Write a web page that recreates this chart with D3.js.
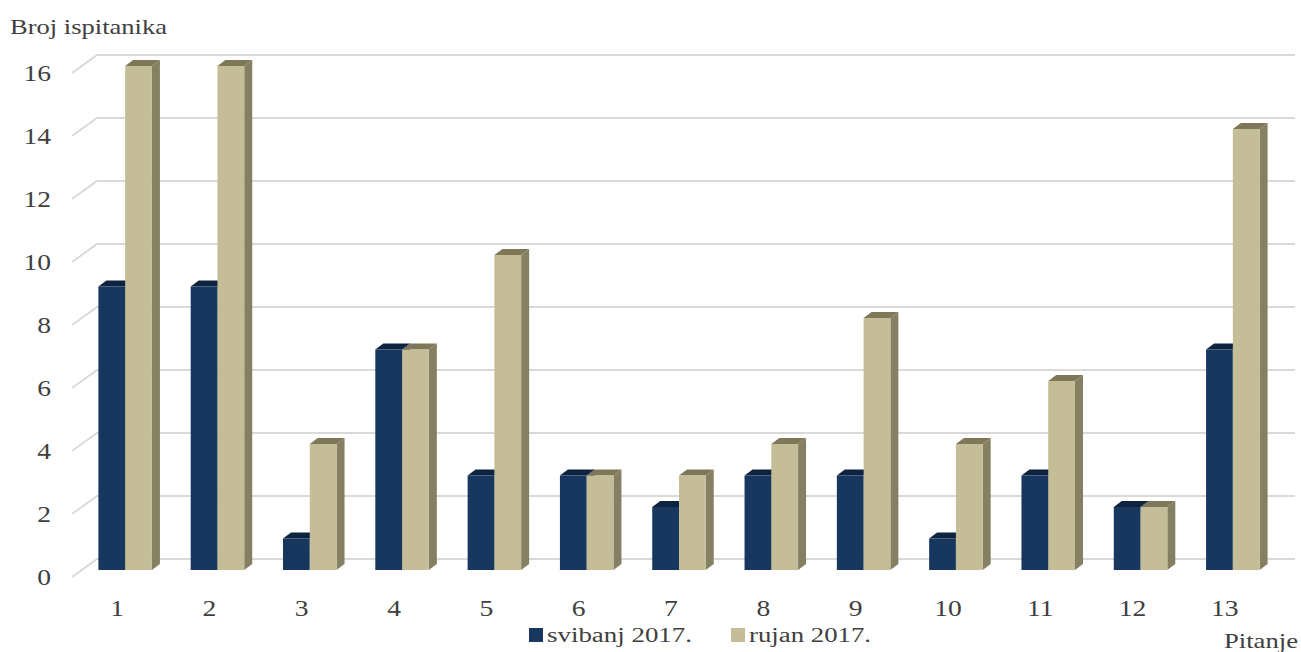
<!DOCTYPE html>
<html>
<head>
<meta charset="utf-8">
<script src="https://cdn.jsdelivr.net/npm/d3@7"></script>
<style>
  html, body { margin: 0; padding: 0; background: #ffffff; }
  svg { display: block; }
  text { font-family: "Liberation Serif", "Times New Roman", serif; fill: #404040; }
</style>
</head>
<body>
<svg id="chart" width="1301" height="652"></svg>
<script>
// Question numbers and respondents per survey round
const categories = ["1", "2", "3", "4", "5", "6", "7", "8", "9", "10", "11", "12", "13"];
const seriesNames = ["svibanj 2017.", "rujan 2017."];
const svibanj = [9, 9, 1, 7, 3, 3, 2, 3, 3, 1, 3, 2, 7];
const rujan = [16, 16, 4, 7, 10, 3, 3, 4, 8, 4, 6, 2, 14];
const yTicks = [0, 2, 4, 6, 8, 10, 12, 14, 16];
const yTitle = "Broj ispitanika";
const xTitle = "Pitanje";

const faceColors = [
  { front: "#17375e", top: "#0d2340", side: "#0f2a4a" },
  { front: "#c4bd97", top: "#7e7859", side: "#858062" }
];

const svg = d3.select("#chart");

// Pseudo-3D layout: floor front edge -> back wall offset
const wallDX = 25, wallDY = -18;   // front edge to back wall
const barDX = 8, barDY = -6;       // bar depth
const frontLift = 7;               // bar front face sits above floor front edge

// y scale measured along the floor front edge
const y = d3.scaleLinear().domain([0, 16]).range([577, 73]);
const yBar = v => y(v) - frontLift;

// x scale for the bar groups (front faces)
const x = d3.scaleBand().domain(categories).range([79, 1279])
  .paddingInner(0.42).paddingOuter(0.21);
const xs = d3.scaleBand().domain(seriesNames).range([0, x.bandwidth()]);

const wallLeft = 72, wallRight = 1295;

// helper for horizontally widened serif text
function label(g, str, tx, ty, size, anchor, sx) {
  return g.append("text")
    .attr("transform", `translate(${tx},${ty}) scale(${sx},1)`)
    .attr("text-anchor", anchor)
    .style("font-size", size + "px")
    .text(str);
}

// gridlines: diagonal on the floor side, then across the back wall
const grid = svg.append("g");
yTicks.forEach(t => {
  const yf = y(t);
  grid.append("path")
    .attr("d", `M${wallLeft},${yf}L${wallLeft + wallDX},${yf + wallDY}L${wallRight},${yf + wallDY}`)
    .attr("fill", "none")
    .attr("stroke", "#d9d9d9")
    .attr("stroke-width", 1.8);
});

// y tick labels
const yAxisG = svg.append("g");
yTicks.forEach(t => {
  label(yAxisG, String(t), 51, y(t) + 8, 24, "end", 1.15);
});

// bars
const data = categories.map((c, i) => ({ cat: c, values: [svibanj[i], rujan[i]] }));
const bars = svg.append("g");
data.forEach(d => {
  d.values.forEach((v, s) => {
    const x0 = x(d.cat) + xs(seriesNames[s]);
    const w = xs.bandwidth();
    const yt = yBar(v), yb = yBar(0);
    const col = faceColors[s];
    const g = bars.append("g");
    // right side face
    g.append("path")
      .attr("d", `M${x0 + w},${yt}L${x0 + w + barDX},${yt + barDY}L${x0 + w + barDX},${yb + barDY}L${x0 + w},${yb}Z`)
      .attr("fill", col.side);
    // top face
    g.append("path")
      .attr("d", `M${x0},${yt}L${x0 + barDX},${yt + barDY}L${x0 + w + barDX},${yt + barDY}L${x0 + w},${yt}Z`)
      .attr("fill", col.top);
    // front face
    g.append("rect")
      .attr("x", x0).attr("y", yt)
      .attr("width", w).attr("height", yb - yt)
      .attr("fill", col.front);
  });
});

// category labels
const xAxisG = svg.append("g");
categories.forEach(c => {
  label(xAxisG, c, x(c) + x.bandwidth() / 2 - 8, 616, 24, "middle", 1.15);
});

// axis titles
svg.append("text").attr("x", 10).attr("y", 34)
  .style("font-size", "21px")
  .attr("textLength", 157).attr("lengthAdjust", "spacingAndGlyphs")
  .text(yTitle);
svg.append("text").attr("x", 1224).attr("y", 648)
  .style("font-size", "22px")
  .attr("textLength", 74).attr("lengthAdjust", "spacingAndGlyphs")
  .text(xTitle);

// legend
const legend = svg.append("g");
const legendItems = [
  { name: seriesNames[0], color: faceColors[0].front, box: 529, tx: 547, len: 145 },
  { name: seriesNames[1], color: faceColors[1].front, box: 731, tx: 749, len: 122 }
];
legendItems.forEach(it => {
  legend.append("rect").attr("x", it.box).attr("y", 628)
    .attr("width", 14).attr("height", 14).attr("fill", it.color);
  legend.append("text").attr("x", it.tx).attr("y", 642)
    .style("font-size", "20px")
    .attr("textLength", it.len).attr("lengthAdjust", "spacingAndGlyphs")
    .text(it.name);
});
</script>
</body>
</html>
